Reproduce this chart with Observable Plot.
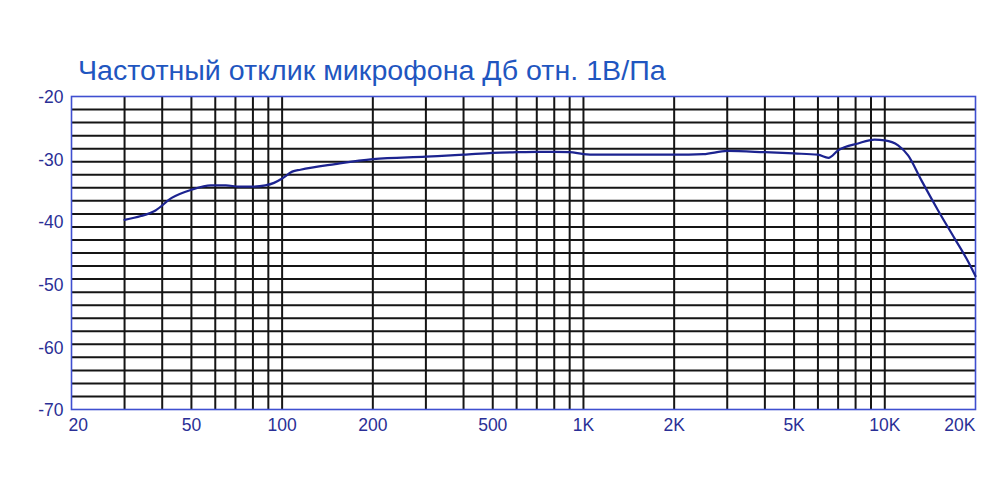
<!DOCTYPE html>
<html>
<head>
<meta charset="utf-8">
<script src="https://cdn.jsdelivr.net/npm/d3@7"></script>
<script src="https://cdn.jsdelivr.net/npm/@observablehq/plot@0.6"></script>
<style>
  html, body { margin: 0; padding: 0; background: #fff; }
  #wrap { position: relative; width: 1000px; height: 489px; overflow: hidden; }
  #title { position: absolute; left: 78px; top: 58px; font-family: "Liberation Sans", Arial, sans-serif; font-size: 27px; color: #1f56c0; white-space: nowrap; line-height: 1; transform: scaleX(1.06); transform-origin: 0 0; }
  #chart { position: absolute; left: 0; top: 0; }
</style>
</head>
<body>
<div id="wrap">
  <div id="chart"></div>
  <div id="title">Частотный отклик микрофона Дб отн. 1В/Па</div>
</div>
<script>
const freq = [30, 34, 38, 43, 50, 58, 65, 72, 80, 88, 94, 100, 108, 115, 150, 200, 300, 400, 500, 600, 700, 800, 900, 1000, 1100, 1500, 2000, 2500, 3000, 4000, 5000, 6000, 6500, 7000, 8150, 9250, 10000, 11070, 11950, 13230, 15030, 17060, 18920, 20000];
const db = [-39.7, -39.1, -38.2, -36.2, -34.9, -34.2, -34.2, -34.4, -34.4, -34.2, -33.8, -33.1, -32.0, -31.7, -30.8, -30.0, -29.6, -29.3, -29.0, -28.9, -28.85, -28.85, -28.9, -29.2, -29.3, -29.3, -29.3, -29.2, -28.7, -28.9, -29.1, -29.3, -29.8, -28.6, -27.5, -26.9, -27.0, -27.8, -29.4, -33.4, -38.2, -42.7, -46.4, -48.7];

const gridX = [30, 40, 50, 60, 70, 80, 90, 100, 200, 300, 400, 500, 600, 700, 800, 900, 1000, 2000, 3000, 4000, 5000, 6000, 7000, 8000, 9000, 10000];
const gridYCount = 24;
const gridY = d3.range(1, gridYCount).map(i => -20 - i * 50 / gridYCount);

const xTickValues = [20, 50, 100, 200, 500, 1000, 2000, 5000, 10000, 20000];
const xTickLabels = ["20", "50", "100", "200", "500", "1K", "2K", "5K", "10K", "20K"];
const yTickValues = [-20, -30, -40, -50, -60, -70];

const curve = freq.map((f, i) => ({f, v: db[i]}));
const xTicks = xTickValues.map((v, i) => ({v, label: xTickLabels[i], anchor: i === 0 ? "start" : i === xTickValues.length - 1 ? "end" : "middle"}));
const yTicks = yTickValues.map(v => ({v, label: String(v)}));

const font = "Liberation Sans, Arial, sans-serif";
const labelColor = "#2a2f96";

const chart = Plot.plot({
  width: 1000,
  height: 489,
  marginLeft: 71,
  marginRight: 25,
  marginTop: 96,
  marginBottom: 80,
  style: {fontFamily: font, background: "#fff"},
  x: {type: "log", domain: [20, 20000], axis: null},
  y: {domain: [-70, -20], axis: null},
  marks: [
    Plot.ruleY(gridY, {stroke: "#151515", strokeWidth: 2}),
    Plot.ruleX(gridX, {stroke: "#151515", strokeWidth: 2}),
    Plot.frame({stroke: "#3f4fd0", strokeWidth: 1.6}),
    Plot.line(curve, {x: "f", y: "v", stroke: "#1c2390", strokeWidth: 2.2, curve: "monotone-x"}),
    Plot.text(xTicks.filter(d => d.anchor === "middle"), {x: "v", y: () => -70, text: "label", dy: 16, fontSize: 17.5, fill: labelColor, textAnchor: "middle"}),
    Plot.text(xTicks.filter(d => d.anchor === "start"), {x: "v", y: () => -70, text: "label", dy: 16, dx: -3, fontSize: 17.5, fill: labelColor, textAnchor: "start"}),
    Plot.text(xTicks.filter(d => d.anchor === "end"), {x: "v", y: () => -70, text: "label", dy: 16, fontSize: 17.5, fill: labelColor, textAnchor: "end"}),
    Plot.text(yTicks, {x: () => 20, y: "v", text: "label", dx: -8, dy: 1, fontSize: 17.5, fill: labelColor, textAnchor: "end"})
  ]
});
document.getElementById("chart").appendChild(chart);
</script>
</body>
</html>
